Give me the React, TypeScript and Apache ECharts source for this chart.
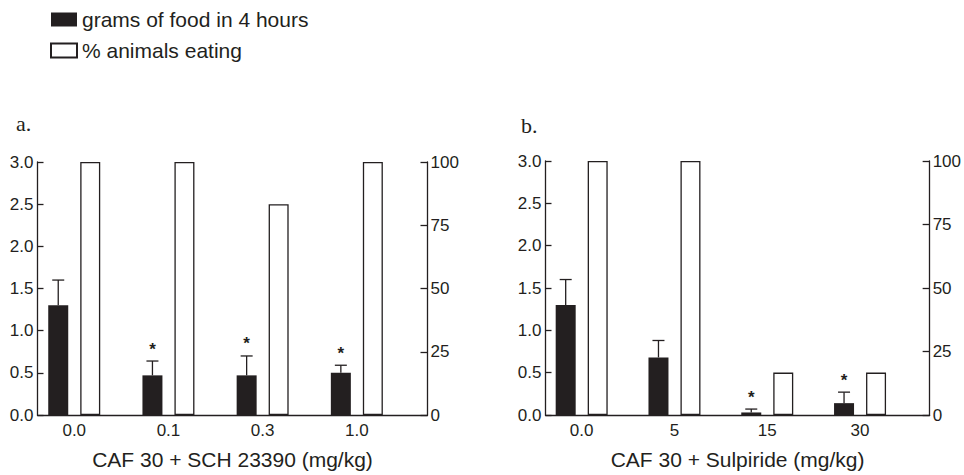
import React, { useEffect, useRef } from "react";
import * as echarts from "echarts";

// ---- data ----
const legendFood = "grams of food in 4 hours";
const legendEating = "% animals eating";

const catsA = ["0.0", "0.1", "0.3", "1.0"];
const foodA = [1.3, 0.47, 0.47, 0.5];
const semA = [0.3, 0.17, 0.23, 0.09];
const eatingA = [100, 100, 83.3, 100];
const sigA = [0, 1, 1, 1];

const catsB = ["0.0", "5", "15", "30"];
const foodB = [1.3, 0.68, 0.03, 0.14];
const semB = [0.3, 0.2, 0.04, 0.13];
const eatingB = [100, 100, 16.7, 16.7];
const sigB = [0, 0, 1, 1];

const leftTicks = { min: 0, max: 3, interval: 0.5 };
const rightTicks = { min: 0, max: 100, interval: 25 };

const nameA = "CAF 30 + SCH 23390 (mg/kg)";
const nameB = "CAF 30 + Sulpiride (mg/kg)";

const INK = "#231f20";
const FONT = "'Liberation Sans', Arial, sans-serif";

export default function App() {
  const ref = useRef<HTMLDivElement>(null);

  useEffect(() => {
    if (!ref.current) return;
    const chart = echarts.init(ref.current, undefined, { renderer: "svg" });

    const half = 16; // black bar center offset from group center (px)

    const xAxis = (idx: number, cats: string[], name: string) => ({
      type: "value",
      gridIndex: idx,
      min: -0.39,
      max: 3.75,
      name,
      nameLocation: "middle",
      nameGap: 34,
      nameTextStyle: { fontSize: 21, color: INK, fontFamily: FONT },
      axisLine: { show: true, onZero: false, lineStyle: { color: INK, width: 1.3 } },
      axisTick: { show: false },
      splitLine: { show: false },
      axisLabel: {
        customValues: [0, 1, 2, 3],
        formatter: (v: number) => cats[Math.round(v)] ?? "",
        fontSize: 17,
        color: INK,
        fontFamily: FONT,
        margin: 7,
      },
    });

    const yLeft = (idx: number) => ({
      type: "value",
      gridIndex: idx,
      position: "left",
      ...leftTicks,
      axisLine: { show: true, onZero: false, lineStyle: { color: INK, width: 1.3 } },
      axisTick: { show: true, inside: true, length: 6, lineStyle: { color: INK, width: 1.3 } },
      splitLine: { show: false },
      axisLabel: {
        formatter: (v: number) => v.toFixed(1),
        fontSize: 17,
        color: INK,
        fontFamily: FONT,
        margin: 4,
      },
    });

    const yRight = (idx: number) => ({
      type: "value",
      gridIndex: idx,
      position: "right",
      ...rightTicks,
      axisLine: { show: true, onZero: false, lineStyle: { color: INK, width: 1.3 } },
      axisTick: { show: true, inside: true, length: 7, lineStyle: { color: INK, width: 1.3 } },
      splitLine: { show: false },
      axisLabel: { fontSize: 17, color: INK, fontFamily: FONT, margin: 3 },
    });

    const errRender = (params: any, api: any) => {
      const x = api.value(0);
      const mean = api.value(1);
      const sem = api.value(2);
      const sig = api.value(3);
      const p0 = api.coord([x, mean]);
      const p1 = api.coord([x, mean + sem]);
      const cx = p0[0] - half;
      const children: any[] = [
        {
          type: "line",
          shape: { x1: cx, y1: p0[1], x2: cx, y2: p1[1] },
          style: { stroke: INK, lineWidth: 1.3 },
        },
        {
          type: "line",
          shape: { x1: cx - 6, y1: p1[1], x2: cx + 6, y2: p1[1] },
          style: { stroke: INK, lineWidth: 1.3 },
        },
      ];
      if (sig) {
        children.push({
          type: "text",
          x: cx,
          y: p1[1] - 12,
          style: {
            text: "*",
            fontSize: 17,
            fontWeight: "bold",
            fontFamily: FONT,
            fill: INK,
            align: "center",
            verticalAlign: "middle",
          },
        });
      }
      return { type: "group", children };
    };

    const panelSeries = (
      idx: number,
      food: number[],
      sem: number[],
      eating: number[],
      sig: number[]
    ) => [
      {
        name: legendFood,
        type: "bar",
        xAxisIndex: idx,
        yAxisIndex: idx * 2,
        data: food.map((v, i) => [i, v]),
        barWidth: 20,
        barGap: "60%",
        itemStyle: { color: INK },
      },
      {
        name: legendEating,
        type: "bar",
        xAxisIndex: idx,
        yAxisIndex: idx * 2 + 1,
        data: eating.map((v, i) => [i, v]),
        barWidth: 20,
        barGap: "60%",
        itemStyle: { color: "#ffffff", borderColor: INK, borderWidth: 1.3 },
      },
      {
        type: "custom",
        xAxisIndex: idx,
        yAxisIndex: idx * 2,
        renderItem: errRender,
        data: food.map((v, i) => [i, v, sem[i], sig[i]]),
        z: 5,
        silent: true,
      },
    ];

    chart.setOption({
      animation: false,
      backgroundColor: "#ffffff",
      textStyle: { fontFamily: FONT, color: INK },
      title: [
        {
          text: "a.",
          left: 16,
          top: 112,
          padding: 0,
          textStyle: { fontFamily: "'Liberation Serif', 'Times New Roman', serif", fontSize: 22, fontWeight: "normal", color: INK },
        },
        {
          text: "b.",
          left: 521,
          top: 114,
          padding: 0,
          textStyle: { fontFamily: "'Liberation Serif', 'Times New Roman', serif", fontSize: 22, fontWeight: "normal", color: INK },
        },
      ],
      legend: {
        data: [legendFood, legendEating],
        orient: "vertical",
        left: 50,
        top: 9,
        padding: 0,
        itemWidth: 26,
        itemHeight: 14,
        itemGap: 10,
        itemTextGap: 6,
        selectedMode: false,
        icon: "rect",
        textStyle: { fontSize: 21, color: INK, fontFamily: FONT },
      },
      grid: [
        { left: 37.5, top: 162, width: 390, height: 256 },
        { left: 545.5, top: 161, width: 388, height: 256 },
      ],
      xAxis: [xAxis(0, catsA, nameA), xAxis(1, catsB, nameB)],
      yAxis: [yLeft(0), yRight(0), yLeft(1), yRight(1)],
      series: [
        ...panelSeries(0, foodA, semA, eatingA, sigA),
        ...panelSeries(1, foodB, semB, eatingB, sigB),
      ],
    });

    return () => chart.dispose();
  }, []);

  return (
    <div
      ref={ref}
      style={{ position: "absolute", left: 0, top: 0, width: 964, height: 475, background: "#fff" }}
    />
  );
}
